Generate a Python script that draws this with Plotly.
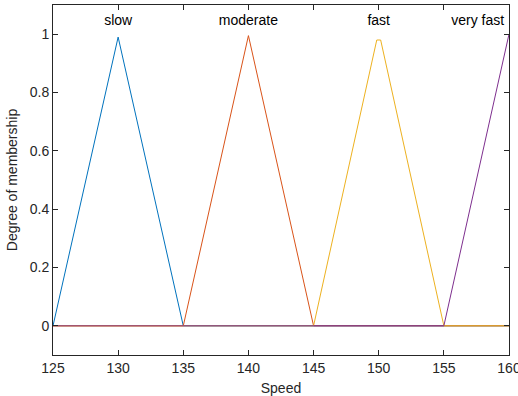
import plotly.graph_objects as go

# Membership function vertices (Speed vs degree of membership)
slow_x = [125, 130, 135, 160]
slow_y = [0, 0.99, 0, 0]
moderate_x = [125, 135, 140, 145, 160]
moderate_y = [0, 0, 0.995, 0, 0]
fast_x = [125, 145, 149.85, 150.15, 155, 160]
fast_y = [0, 0, 0.98, 0.98, 0, 0]
veryfast_x = [125, 155, 160]
veryfast_y = [0, 0, 1]

mf_names = ["slow", "moderate", "fast", "very fast"]
label_x = [130, 140, 150, 157.6]
label_y = [1.045, 1.045, 1.045, 1.045]

x_ticks = [125, 130, 135, 140, 145, 150, 155, 160]
y_ticks = [0, 0.2, 0.4, 0.6, 0.8, 1]
y_ticklabels = ["0", "0.2", "0.4", "0.6", "0.8", "1"]

colors = ["#0072BD", "#D95319", "#EDB120", "#7E2F8E"]
series = [(slow_x, slow_y), (moderate_x, moderate_y), (fast_x, fast_y), (veryfast_x, veryfast_y)]

FONT = "Liberation Sans, Arial"

fig = go.Figure()
for (xs, ys), c, n in zip(series, colors, mf_names):
    fig.add_trace(go.Scatter(x=xs, y=ys, mode="lines", line=dict(color=c, width=1), name=n,
                             showlegend=False, cliponaxis=True))

fig.add_trace(go.Scatter(x=label_x, y=label_y, mode="text", text=mf_names,
                         textfont=dict(family=FONT, size=14, color="#000000"),
                         textposition="middle center", showlegend=False, cliponaxis=False))

axis_common = dict(
    showgrid=False, zeroline=False, showline=True, linecolor="#262626", linewidth=1,
    mirror="ticks", ticks="inside", ticklen=5, tickcolor="#262626",
    tickfont=dict(family=FONT, size=14, color="#262626"),
    ticklabeloverflow="allow", automargin=False,
)

fig.update_layout(
    width=518, height=396,
    margin=dict(l=53, r=9, t=5, b=41),
    paper_bgcolor="white", plot_bgcolor="white",
    xaxis=dict(range=[125, 160], tickvals=x_ticks, title=dict(text="Speed", standoff=8,
               font=dict(family=FONT, size=14, color="#262626")), **axis_common),
    yaxis=dict(range=[-0.1, 1.1], tickvals=y_ticks, ticktext=y_ticklabels,
               title=dict(text="Degree of membership", standoff=8,
                          font=dict(family=FONT, size=14, color="#262626")), **axis_common),
)

fig.write_html("out.html")
